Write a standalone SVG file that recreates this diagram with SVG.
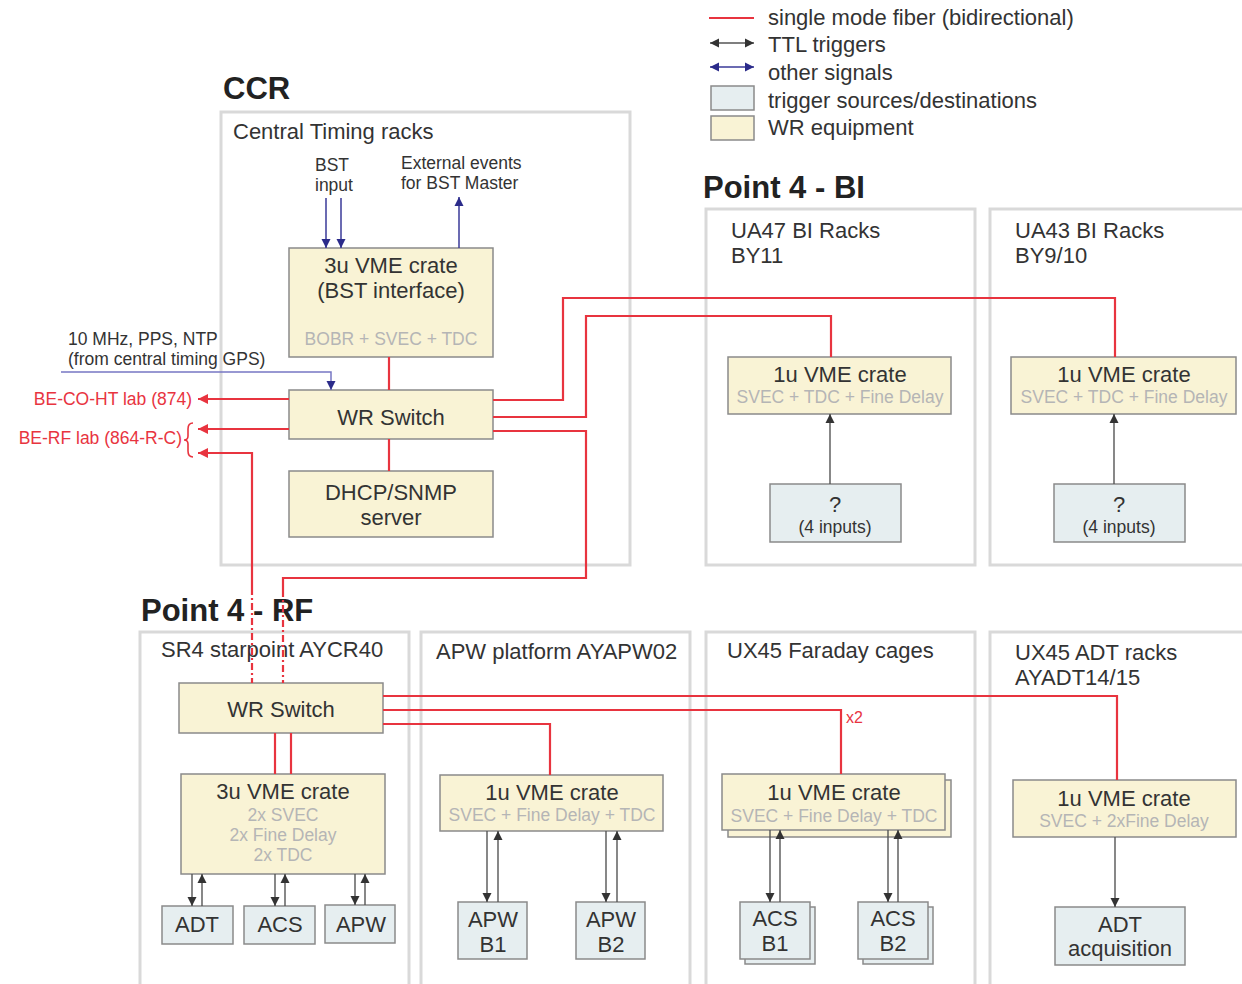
<svg xmlns="http://www.w3.org/2000/svg" width="1242" height="984" viewBox="0 0 1242 984">
<style>
text{font-family:"Liberation Sans",Arial,sans-serif;fill:#333}
.t22{font-size:22px}
.t17{font-size:17.5px}
.sub{font-size:17.5px;fill:#b5b5b5}
.title{font-size:31px;font-weight:bold;fill:#222}
.rt{font-size:17.5px;fill:#e8343f}
.c{text-anchor:middle}
.cont{fill:none;stroke:#d9d9d9;stroke-width:3}
.wr{fill:#f9f3d5;stroke:#8a8a8a;stroke-width:1.5}
.tr{fill:#e6eef0;stroke:#8a8a8a;stroke-width:1.5}
.red{fill:none;stroke:#e8343f;stroke-width:2.2}
.redd{fill:none;stroke:#e8343f;stroke-width:2.2;stroke-dasharray:7 3 2 3}
.blk{fill:none;stroke:#555;stroke-width:1.4}
.blu{fill:none;stroke:#3a3a98;stroke-width:1.5}
.blu2{fill:none;stroke:#7777c4;stroke-width:1.5}
</style>
<defs>
<marker id="ar" markerUnits="userSpaceOnUse" markerWidth="10" markerHeight="10" refX="10" refY="5" orient="auto-start-reverse"><path d="M0,0 L10,5 L0,10 z" fill="#e8343f"/></marker>
<marker id="ak" markerUnits="userSpaceOnUse" markerWidth="9" markerHeight="10" refX="9" refY="5" orient="auto-start-reverse"><path d="M0,0.5 L9,5 L0,9.5 z" fill="#333"/></marker>
<marker id="ab" markerUnits="userSpaceOnUse" markerWidth="9" markerHeight="10" refX="9" refY="5" orient="auto-start-reverse"><path d="M0,0.5 L9,5 L0,9.5 z" fill="#2b2b8a"/></marker>
</defs>

<g id="legend">
<line x1="709" y1="18" x2="754" y2="18" class="red"/>
<line x1="710" y1="43" x2="754" y2="43" class="blk" marker-start="url(#ak)" marker-end="url(#ak)"/>
<line x1="710" y1="67" x2="754" y2="67" class="blu" marker-start="url(#ab)" marker-end="url(#ab)"/>
<rect x="711" y="86" width="43" height="24" class="tr"/>
<rect x="711" y="116" width="43" height="24" class="wr"/>
<text x="768" y="25" class="t22">single mode fiber (bidirectional)</text>
<text x="768" y="52" class="t22">TTL triggers</text>
<text x="768" y="80" class="t22">other signals</text>
<text x="768" y="108" class="t22">trigger sources/destinations</text>
<text x="768" y="135" class="t22">WR equipment</text>
</g>

<g id="titles">
<text x="223" y="99" class="title">CCR</text>
<text x="703" y="198" class="title">Point 4 - BI</text>
<text x="141" y="621" class="title">Point 4 - RF</text>
</g>

<g id="containers">
<rect x="221" y="112" width="409" height="453" class="cont"/>
<text x="233" y="139" class="t22">Central Timing racks</text>
<rect x="706" y="209" width="269" height="356" class="cont"/>
<text x="731" y="238" class="t22">UA47 BI Racks</text>
<text x="731" y="263" class="t22">BY11</text>
<rect x="990" y="209" width="260" height="356" class="cont"/>
<text x="1015" y="238" class="t22">UA43 BI Racks</text>
<text x="1015" y="263" class="t22">BY9/10</text>
<rect x="140" y="632" width="269" height="360" class="cont"/>
<text x="161" y="657" class="t22">SR4 starpoint AYCR40</text>
<rect x="421" y="632" width="269" height="360" class="cont"/>
<text x="436" y="659" class="t22">APW platform AYAPW02</text>
<rect x="706" y="632" width="269" height="360" class="cont"/>
<text x="727" y="658" class="t22">UX45 Faraday cages</text>
<rect x="990" y="632" width="260" height="360" class="cont"/>
<text x="1015" y="660" class="t22">UX45 ADT racks</text>
<text x="1015" y="685" class="t22">AYADT14/15</text>
</g>

<g id="labels">
<text x="315" y="171" class="t17">BST</text>
<text x="315" y="191" class="t17">input</text>
<text x="401" y="169" class="t17">External events</text>
<text x="401" y="189" class="t17">for BST Master</text>
<text x="68" y="345" class="t17">10 MHz, PPS, NTP</text>
<text x="68" y="365" class="t17">(from central timing GPS)</text>
<text x="192" y="405" class="rt" text-anchor="end">BE-CO-HT lab (874)</text>
<text x="182" y="444" class="rt" text-anchor="end">BE-RF lab (864-R-C)</text>
<text x="846" y="723" class="rt" style="font-size:16px">x2</text>
</g>

<g id="ccr-bst-crate">
<rect x="289" y="248" width="204" height="109" class="wr"/>
<text x="391" y="273" class="t22 c">3u VME crate</text>
<text x="391" y="298" class="t22 c">(BST interface)</text>
<text x="391" y="345" class="sub c">BOBR + SVEC + TDC</text>
</g>
<g id="ccr-wr-switch">
<rect x="289" y="390" width="204" height="49" class="wr"/>
<text x="391" y="425" class="t22 c">WR Switch</text>
</g>
<g id="ccr-dhcp">
<rect x="289" y="471" width="204" height="66" class="wr"/>
<text x="391" y="500" class="t22 c">DHCP/SNMP</text>
<text x="391" y="525" class="t22 c">server</text>
</g>

<g id="ua47-crate">
<rect x="728" y="357" width="223" height="57" class="wr"/>
<text x="840" y="382" class="t22 c">1u VME crate</text>
<text x="840" y="403" class="sub c">SVEC + TDC + Fine Delay</text>
</g>
<g id="ua47-inputs">
<rect x="770" y="484" width="131" height="58" class="tr"/>
<text x="835" y="512" class="t22 c">?</text>
<text x="835" y="533" class="t17 c">(4 inputs)</text>
</g>
<g id="ua43-crate">
<rect x="1011" y="357" width="225" height="57" class="wr"/>
<text x="1124" y="382" class="t22 c">1u VME crate</text>
<text x="1124" y="403" class="sub c">SVEC + TDC + Fine Delay</text>
</g>
<g id="ua43-inputs">
<rect x="1054" y="484" width="131" height="58" class="tr"/>
<text x="1119" y="512" class="t22 c">?</text>
<text x="1119" y="533" class="t17 c">(4 inputs)</text>
</g>

<g id="rf-wr-switch">
<rect x="179" y="683" width="204" height="50" class="wr"/>
<text x="281" y="717" class="t22 c">WR Switch</text>
</g>
<g id="rf-3u-crate">
<rect x="181" y="774" width="204" height="100" class="wr"/>
<text x="283" y="799" class="t22 c">3u VME crate</text>
<text x="283" y="821" class="sub c">2x SVEC</text>
<text x="283" y="841" class="sub c">2x Fine Delay</text>
<text x="283" y="861" class="sub c">2x TDC</text>
</g>
<g id="rf-adt">
<rect x="162" y="906" width="71" height="38" class="tr"/>
<text x="197" y="932" class="t22 c">ADT</text>
</g>
<g id="rf-acs">
<rect x="244" y="906" width="71" height="38" class="tr"/>
<text x="280" y="932" class="t22 c">ACS</text>
</g>
<g id="rf-apw">
<rect x="325" y="905" width="70" height="38" class="tr"/>
<text x="361" y="932" class="t22 c">APW</text>
</g>

<g id="apw-crate">
<rect x="440" y="775" width="223" height="56" class="wr"/>
<text x="552" y="800" class="t22 c">1u VME crate</text>
<text x="552" y="821" class="sub c">SVEC + Fine Delay + TDC</text>
</g>
<g id="apw-b1">
<rect x="458" y="902" width="69" height="57" class="tr"/>
<text x="493" y="927" class="t22 c">APW</text>
<text x="493" y="952" class="t22 c">B1</text>
</g>
<g id="apw-b2">
<rect x="576" y="902" width="69" height="57" class="tr"/>
<text x="611" y="927" class="t22 c">APW</text>
<text x="611" y="952" class="t22 c">B2</text>
</g>

<g id="faraday-crate">
<rect x="728" y="780" width="223" height="57" class="wr"/>
<rect x="722" y="774" width="223" height="56" class="wr"/>
<text x="834" y="800" class="t22 c">1u VME crate</text>
<text x="834" y="822" class="sub c">SVEC + Fine Delay + TDC</text>
</g>
<g id="faraday-acs-b1">
<rect x="745" y="907" width="70" height="57" class="tr"/>
<rect x="740" y="902" width="70" height="57" class="tr"/>
<text x="775" y="926" class="t22 c">ACS</text>
<text x="775" y="951" class="t22 c">B1</text>
</g>
<g id="faraday-acs-b2">
<rect x="863" y="907" width="70" height="57" class="tr"/>
<rect x="858" y="902" width="70" height="57" class="tr"/>
<text x="893" y="926" class="t22 c">ACS</text>
<text x="893" y="951" class="t22 c">B2</text>
</g>

<g id="adt-crate">
<rect x="1013" y="780" width="223" height="57" class="wr"/>
<text x="1124" y="806" class="t22 c">1u VME crate</text>
<text x="1124" y="827" class="sub c">SVEC + 2xFine Delay</text>
</g>
<g id="adt-acquisition">
<rect x="1055" y="907" width="130" height="58" class="tr"/>
<text x="1120" y="932" class="t22 c">ADT</text>
<text x="1120" y="956" class="t22 c">acquisition</text>
</g>

<g id="connectors">
<line x1="389" y1="357" x2="389" y2="390" class="red"/>
<line x1="389" y1="439" x2="389" y2="471" class="red"/>
<line x1="289" y1="399" x2="198" y2="399" class="red" marker-end="url(#ar)"/>
<line x1="289" y1="429" x2="198" y2="429" class="red" marker-end="url(#ar)"/>
<polyline points="252,588 252,453 198,453" class="red" marker-end="url(#ar)"/>
<line x1="252" y1="588" x2="252" y2="683" class="redd"/>
<polyline points="493,400 563,400 563,298 1115,298 1115,357" class="red"/>
<polyline points="493,417 586,417 586,316 831,316 831,357" class="red"/>
<polyline points="493,431 586,431 586,578 283,578 283,590" class="red"/>
<line x1="283" y1="590" x2="283" y2="683" class="redd"/>
<path d="M193,423 Q188,423 188,429 L188,436 Q188,440 184,440 Q188,440 188,444 L188,451 Q188,457 193,457" fill="none" stroke="#e8343f" stroke-width="1.6"/>
<line x1="326" y1="198" x2="326" y2="248" class="blu" marker-end="url(#ab)"/>
<line x1="341" y1="198" x2="341" y2="248" class="blu" marker-end="url(#ab)"/>
<line x1="459" y1="248" x2="459" y2="197" class="blu" marker-end="url(#ab)"/>
<polyline points="61,372 331,372 331,390" class="blu2" marker-end="url(#ab)"/>
<line x1="830" y1="484" x2="830" y2="414" class="blk" marker-end="url(#ak)"/>
<line x1="1114" y1="484" x2="1114" y2="414" class="blk" marker-end="url(#ak)"/>
<polyline points="383,696 1117,696 1117,780" class="red"/>
<polyline points="383,710 841,710 841,774" class="red"/>
<polyline points="383,724 550,724 550,775" class="red"/>
<line x1="275" y1="733" x2="275" y2="774" class="red"/>
<line x1="291" y1="733" x2="291" y2="774" class="red"/>
<line x1="192" y1="874" x2="192" y2="906" class="blk" marker-end="url(#ak)"/>
<line x1="202" y1="906" x2="202" y2="874" class="blk" marker-end="url(#ak)"/>
<line x1="275" y1="874" x2="275" y2="906" class="blk" marker-end="url(#ak)"/>
<line x1="285" y1="906" x2="285" y2="874" class="blk" marker-end="url(#ak)"/>
<line x1="355" y1="874" x2="355" y2="905" class="blk" marker-end="url(#ak)"/>
<line x1="365" y1="905" x2="365" y2="874" class="blk" marker-end="url(#ak)"/>
<line x1="487" y1="831" x2="487" y2="902" class="blk" marker-end="url(#ak)"/>
<line x1="498" y1="902" x2="498" y2="831" class="blk" marker-end="url(#ak)"/>
<line x1="606" y1="831" x2="606" y2="902" class="blk" marker-end="url(#ak)"/>
<line x1="617" y1="902" x2="617" y2="831" class="blk" marker-end="url(#ak)"/>
<line x1="770" y1="830" x2="770" y2="902" class="blk" marker-end="url(#ak)"/>
<line x1="780" y1="902" x2="780" y2="830" class="blk" marker-end="url(#ak)"/>
<line x1="888" y1="830" x2="888" y2="902" class="blk" marker-end="url(#ak)"/>
<line x1="898" y1="902" x2="898" y2="830" class="blk" marker-end="url(#ak)"/>
<line x1="1115" y1="837" x2="1115" y2="907" class="blk" marker-end="url(#ak)"/>
</g>
</svg>
